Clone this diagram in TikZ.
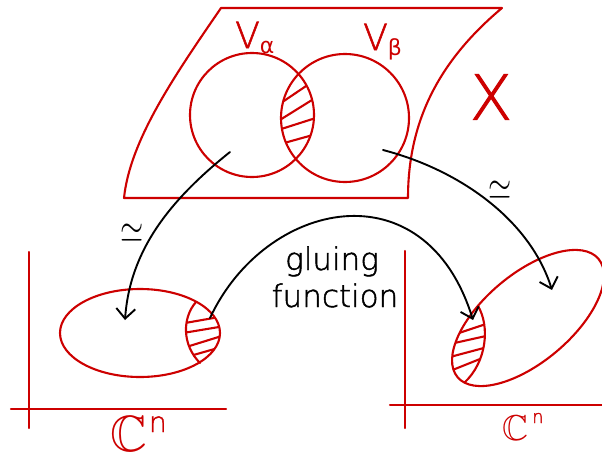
\documentclass[tikz,border=0pt]{standalone}
\usepackage{fontspec}
\usepackage{amssymb}
\usepackage{graphicx}
\usetikzlibrary{arrows.meta}
\IfFontExistsTF{DejaVu Sans ExtraLight}{\newfontfamily\hand[FakeBold=1.5]{DejaVu Sans ExtraLight}}{\newfontfamily\hand{DejaVu Sans}}
\newfontfamily\dejavu{DejaVu Sans}
\definecolor{inkred}{RGB}{205,0,0}
\tikzset{
  redline/.style={draw=inkred, line width=2.1pt, line cap=round, line join=round},
  hatchline/.style={draw=inkred, line width=2.1pt},
  blackarrow/.style={draw=black, line width=1.9pt, line cap=round, -{Straight Barb[length=10pt,width=19pt]}},
  redlbl/.style={inner sep=0pt, text=inkred},
  blacklbl/.style={inner sep=0pt, text=black},
}
\begin{document}
\begin{tikzpicture}[x=1pt,y=-1pt]
\path[fill=white] (0,0) rectangle (602,455);
\useasboundingbox (0,0) rectangle (602,455);

% manifold X
\draw[redline] (221,8) -- (502,8) .. controls (440,60) and (408,120) .. (408,198)
  -- (124,198) .. controls (130,140) and (175,75) .. (221,8) -- cycle;

% open sets
\node[circle, redline, minimum size=124pt, inner sep=0pt] (Va) at (252,115) {};
\node[circle, redline, minimum size=128pt, inner sep=0pt] (Vb) at (345,118) {};
\begin{scope}
  \clip (252,115) circle (62pt);
  \clip (345,118) circle (64pt);
  \draw[hatchline] (275,107) -- (315,80);
  \draw[hatchline] (275,123) -- (320,95);
  \draw[hatchline] (275,131) -- (322,116);
  \draw[hatchline] (277,145) -- (320,133);
\end{scope}

\node[redlbl, anchor=base west] (lVa) at (235,48) {\fontsize{36}{36}\selectfont\hand V\raisebox{-5pt}{\fontsize{22}{22}\selectfont\dejavu α}};
\node[redlbl, anchor=base west] (lVb) at (363,50) {\fontsize{36}{36}\selectfont\hand V\raisebox{-5pt}{\fontsize{22}{22}\selectfont\dejavu β}};
\node[redlbl] (lX) at (491,97) {\fontsize{62}{62}\selectfont\hand X};

% left chart
\draw[redline] (29,252) -- (29,428);
\draw[redline] (11,409) -- (226,409);
\draw[redline] (140,333) ellipse (80pt and 44pt);
\begin{scope}
  \clip (140,333) ellipse (80pt and 44pt);
  \clip (196,302) .. controls (182,318) and (182,345) .. (200,363) -- (230,375) -- (230,290) -- cycle;
  \draw[hatchline] (185,323) -- (225,316);
  \draw[hatchline] (183,333) -- (225,326);
  \draw[hatchline] (183,348) -- (225,335);
  \draw[hatchline] (183,358) -- (225,346);
\end{scope}
\draw[redline] (196,302) .. controls (182,318) and (182,345) .. (200,363);
\node[redlbl, anchor=base west] (C1) at (110,451) {\fontsize{51}{51}\selectfont$\mathbb{C}$\kern2pt\raisebox{19pt}{\fontsize{28}{28}\selectfont\hand n}};

% right chart
\draw[redline] (405,251) -- (405,428);
\draw[redline] (390,405) -- (602,405);
\draw[redline, rotate around={40:(528,318)}] (528,318) ellipse (92pt and 44pt);
\begin{scope}
  \clip[rotate around={40:(528,318)}] (528,318) ellipse (92pt and 44pt);
  \clip (478,306) .. controls (490,326) and (487,362) .. (464,383) -- (440,400) -- (440,290) -- cycle;
  \draw[hatchline] (450,336) -- (495,321);
  \draw[hatchline] (450,344) -- (495,334);
  \draw[hatchline] (450,357) -- (495,345);
  \draw[hatchline] (450,371) -- (495,353);
\end{scope}
\begin{scope}
  \clip[rotate around={40:(528,318)}] (528,318) ellipse (92pt and 44pt);
  \draw[redline] (478,306) .. controls (490,326) and (487,362) .. (464,383);
\end{scope}
\node[redlbl, anchor=base west] (C2) at (502,440) {\fontsize{36}{36}\selectfont$\mathbb{C}$\kern4pt\raisebox{17pt}{\fontsize{18}{18}\selectfont\hand n}};

% maps
\coordinate (sA) at (230,152);
\coordinate (tA) at (125,320);
\coordinate (sB) at (383,150);
\coordinate (tB) at (552,290);
\coordinate (sG) at (210,318);
\coordinate (tG) at (473,320);
\draw[blackarrow] (sA) .. controls (170,200) and (130,250) .. (tA);
\draw[blackarrow] (sB) .. controls (460,170) and (530,220) .. (tB);
\draw[blackarrow] (sG) .. controls (265,200) and (425,165) .. (tG);

\node[blacklbl] (eqA) at (132,233) {\fontsize{25}{25}\selectfont\scalebox{1.2}[1.6]{$\simeq$}};
\node[blacklbl] (eqB) at (500,190) {\fontsize{25}{25}\selectfont\scalebox{1.2}[1.6]{$\simeq$}};

\node[blacklbl, anchor=base] (g1) at (332,270) {\fontsize{31}{31}\selectfont\hand gluing};
\node[blacklbl, anchor=base] (g2) at (335,307) {\fontsize{31}{31}\selectfont\hand function};
\end{tikzpicture}
\end{document}
